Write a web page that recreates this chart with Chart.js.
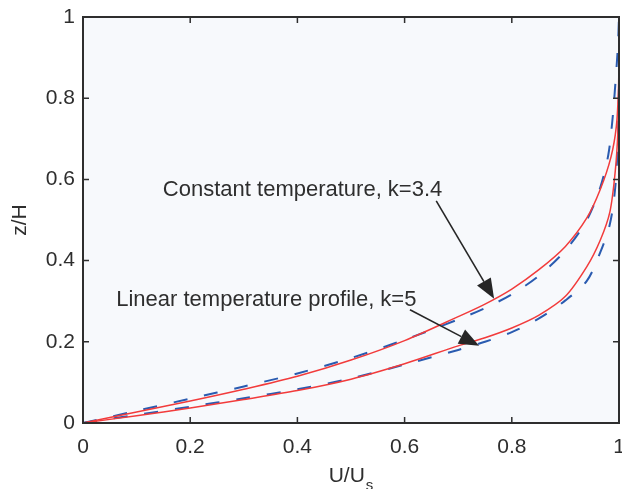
<!DOCTYPE html>
<html>
<head>
<meta charset="utf-8">
<script src="https://cdn.jsdelivr.net/npm/chart.js@4/dist/chart.umd.min.js"></script>
<style>
  html, body { margin: 0; padding: 0; background: #fff; }
  #wrap { width: 622px; height: 489px; }
</style>
</head>
<body>
<div id="wrap"><canvas id="chart" width="622" height="489"></canvas></div>
<script>
// U/Us vs z/H profiles
const constTempRed = [
  [0, 0], [0.1, 0.027], [0.2, 0.054], [0.3, 0.083], [0.4, 0.115], [0.5, 0.155],
  [0.6, 0.203], [0.7, 0.262], [0.75, 0.293], [0.8, 0.33], [0.85, 0.377], [0.9, 0.435],
  [0.94, 0.505], [0.965, 0.575], [0.985, 0.655], [0.995, 0.73], [0.999, 0.82], [1, 0.92], [1, 1]
];
const constTempBlue = [
  [0, 0], [0.1, 0.03], [0.2, 0.06], [0.3, 0.09], [0.4, 0.122], [0.5, 0.16],
  [0.6, 0.205], [0.7, 0.255], [0.75, 0.283], [0.8, 0.317], [0.85, 0.362], [0.9, 0.425],
  [0.94, 0.5], [0.965, 0.58], [0.98, 0.66], [0.988, 0.75], [0.994, 0.85], [0.998, 0.93], [1, 1]
];
const linearTempRed = [
  [0, 0], [0.1, 0.018], [0.2, 0.037], [0.3, 0.058], [0.4, 0.08], [0.5, 0.108],
  [0.6, 0.146], [0.7, 0.19], [0.75, 0.21], [0.8, 0.234], [0.85, 0.265], [0.9, 0.312],
  [0.94, 0.385], [0.965, 0.45], [0.983, 0.52], [0.993, 0.62], [0.998, 0.72], [1, 0.85], [1, 1]
];
const linearTempBlue = [
  [0, 0], [0.1, 0.02], [0.2, 0.04], [0.3, 0.061], [0.4, 0.083], [0.5, 0.11],
  [0.6, 0.144], [0.7, 0.18], [0.75, 0.2], [0.8, 0.224], [0.85, 0.257], [0.9, 0.302],
  [0.94, 0.35], [0.965, 0.42], [0.983, 0.49], [0.993, 0.58], [0.998, 0.7], [1, 0.85], [1, 1]
];

const xTicks = [0, 0.2, 0.4, 0.6, 0.8, 1];
const yTicks = [0, 0.2, 0.4, 0.6, 0.8, 1];

const noteLabels = ["Constant temperature, k=3.4", "Linear temperature profile, k=5"];
// text anchor (left, baseline) and arrow start/tip, in data units
const noteText = [[0.149, 0.56], [0.062, 0.289]];
const noteFrom = [[0.659, 0.547], [0.61, 0.279]];
const noteTo = [[0.767, 0.306], [0.739, 0.19]];

const FONT = "'Liberation Sans', Arial, sans-serif";
const RED = "#f23b3b";
const BLUE = "#2a5bb0";
const INK = "#2e2e2e";

const toXY = (pairs) => pairs.map((p) => ({ x: p[0], y: p[1] }));

const line = (data, color, dashed) => ({
  data: toXY(data),
  showLine: true,
  pointRadius: 0,
  borderColor: color,
  borderWidth: dashed ? 2 : 1.5,
  borderDash: dashed ? [14, 17] : [],
  tension: 0.3,
  order: dashed ? 1 : 0,
});

const plotBg = {
  id: "plotBg",
  beforeDraw(chart) {
    const { ctx, chartArea: a } = chart;
    ctx.save();
    ctx.fillStyle = "#ffffff";
    ctx.fillRect(0, 0, chart.width, chart.height);
    ctx.fillStyle = "#f7f9fc";
    ctx.fillRect(a.left, a.top, a.right - a.left, a.bottom - a.top);
    ctx.restore();
  },
};

const frame = {
  id: "frame",
  afterDatasetsDraw(chart) {
    const { ctx, chartArea: a, scales } = chart;
    const len = 6;
    ctx.save();
    ctx.strokeStyle = INK;
    ctx.lineWidth = 1.5;
    ctx.beginPath();
    xTicks.forEach((v) => {
      const px = scales.x.getPixelForValue(v);
      ctx.moveTo(px, a.bottom);
      ctx.lineTo(px, a.bottom - len);
      ctx.moveTo(px, a.top);
      ctx.lineTo(px, a.top + len);
    });
    yTicks.forEach((v) => {
      const py = scales.y.getPixelForValue(v);
      ctx.moveTo(a.left, py);
      ctx.lineTo(a.left + len, py);
      ctx.moveTo(a.right, py);
      ctx.lineTo(a.right - len, py);
    });
    ctx.stroke();
    ctx.lineWidth = 2;
    ctx.strokeRect(a.left, a.top, a.right - a.left, a.bottom - a.top);
    ctx.restore();
  },
};

const notes = {
  id: "notes",
  afterDatasetsDraw(chart) {
    const { ctx, scales } = chart;
    ctx.save();
    ctx.strokeStyle = "#262626";
    ctx.font = "22px " + FONT;
    ctx.textBaseline = "alphabetic";
    ctx.textAlign = "left";
    noteLabels.forEach((txt, i) => {
      ctx.fillStyle = INK;
      ctx.fillText(txt, scales.x.getPixelForValue(noteText[i][0]), scales.y.getPixelForValue(noteText[i][1]));

      const x0 = scales.x.getPixelForValue(noteFrom[i][0]);
      const y0 = scales.y.getPixelForValue(noteFrom[i][1]);
      const x1 = scales.x.getPixelForValue(noteTo[i][0]);
      const y1 = scales.y.getPixelForValue(noteTo[i][1]);
      const ang = Math.atan2(y1 - y0, x1 - x0);
      const headLen = 20;
      const headW = 8;
      const bx = x1 - headLen * Math.cos(ang);
      const by = y1 - headLen * Math.sin(ang);

      ctx.lineWidth = 1.6;
      ctx.beginPath();
      ctx.moveTo(x0, y0);
      ctx.lineTo(bx, by);
      ctx.stroke();

      ctx.fillStyle = "#262626";
      ctx.beginPath();
      ctx.moveTo(x1, y1);
      ctx.lineTo(bx + headW * Math.sin(ang), by - headW * Math.cos(ang));
      ctx.lineTo(bx - headW * Math.sin(ang), by + headW * Math.cos(ang));
      ctx.closePath();
      ctx.fill();
    });
    ctx.restore();
  },
};

const axisTitles = {
  id: "axisTitles",
  afterDraw(chart) {
    const { ctx, chartArea: a } = chart;
    ctx.save();
    ctx.fillStyle = INK;

    // x title: U/U with subscript s
    ctx.font = "21px " + FONT;
    ctx.textBaseline = "alphabetic";
    ctx.textAlign = "left";
    const main = "U/U";
    const mainW = ctx.measureText(main).width;
    ctx.font = "15px " + FONT;
    const subW = ctx.measureText("s").width;
    const startX = (a.left + a.right) / 2 - (mainW + subW + 1) / 2;
    ctx.font = "21px " + FONT;
    ctx.fillText(main, startX, 482);
    ctx.font = "15px " + FONT;
    ctx.fillText("s", startX + mainW + 1, 490);

    // y title
    ctx.font = "21px " + FONT;
    ctx.translate(26, (a.top + a.bottom) / 2);
    ctx.rotate(-Math.PI / 2);
    ctx.textAlign = "center";
    ctx.fillText("z/H", 0, 0);
    ctx.restore();
  },
};

const fmt = (v) => String(Math.round(v * 10) / 10);

new Chart(document.getElementById("chart"), {
  type: "scatter",
  data: {
    datasets: [
      line(constTempRed, RED, false),
      line(linearTempRed, RED, false),
      line(constTempBlue, BLUE, true),
      line(linearTempBlue, BLUE, true),
    ],
  },
  options: {
    responsive: false,
    devicePixelRatio: 1,
    animation: false,
    layout: {
      padding: { left: 0, top: 17, right: 3, bottom: 0 },
    },
    scales: {
      x: {
        type: "linear",
        min: 0,
        max: 1,
        afterBuildTicks: (scale) => {
          scale.ticks = xTicks.map((v) => ({ value: v }));
        },
        afterFit: (scale) => {
          scale.height = 66;
          scale.paddingLeft = 0;
          scale.paddingRight = 0;
        },
        grid: { display: false, drawTicks: false },
        border: { display: false },
        ticks: {
          color: INK,
          padding: 12,
          maxRotation: 0,
          font: { family: FONT, size: 21 },
          callback: fmt,
        },
      },
      y: {
        type: "linear",
        min: 0,
        max: 1,
        afterBuildTicks: (scale) => {
          scale.ticks = yTicks.map((v) => ({ value: v }));
        },
        afterFit: (scale) => {
          scale.width = 83;
          scale.paddingTop = 0;
          scale.paddingBottom = 0;
        },
        grid: { display: false, drawTicks: false },
        border: { display: false },
        ticks: {
          color: INK,
          padding: 8,
          font: { family: FONT, size: 21 },
          callback: fmt,
        },
      },
    },
    plugins: {
      legend: { display: false },
      tooltip: { enabled: false },
    },
  },
  plugins: [plotBg, frame, notes, axisTitles],
});
</script>
</body>
</html>
